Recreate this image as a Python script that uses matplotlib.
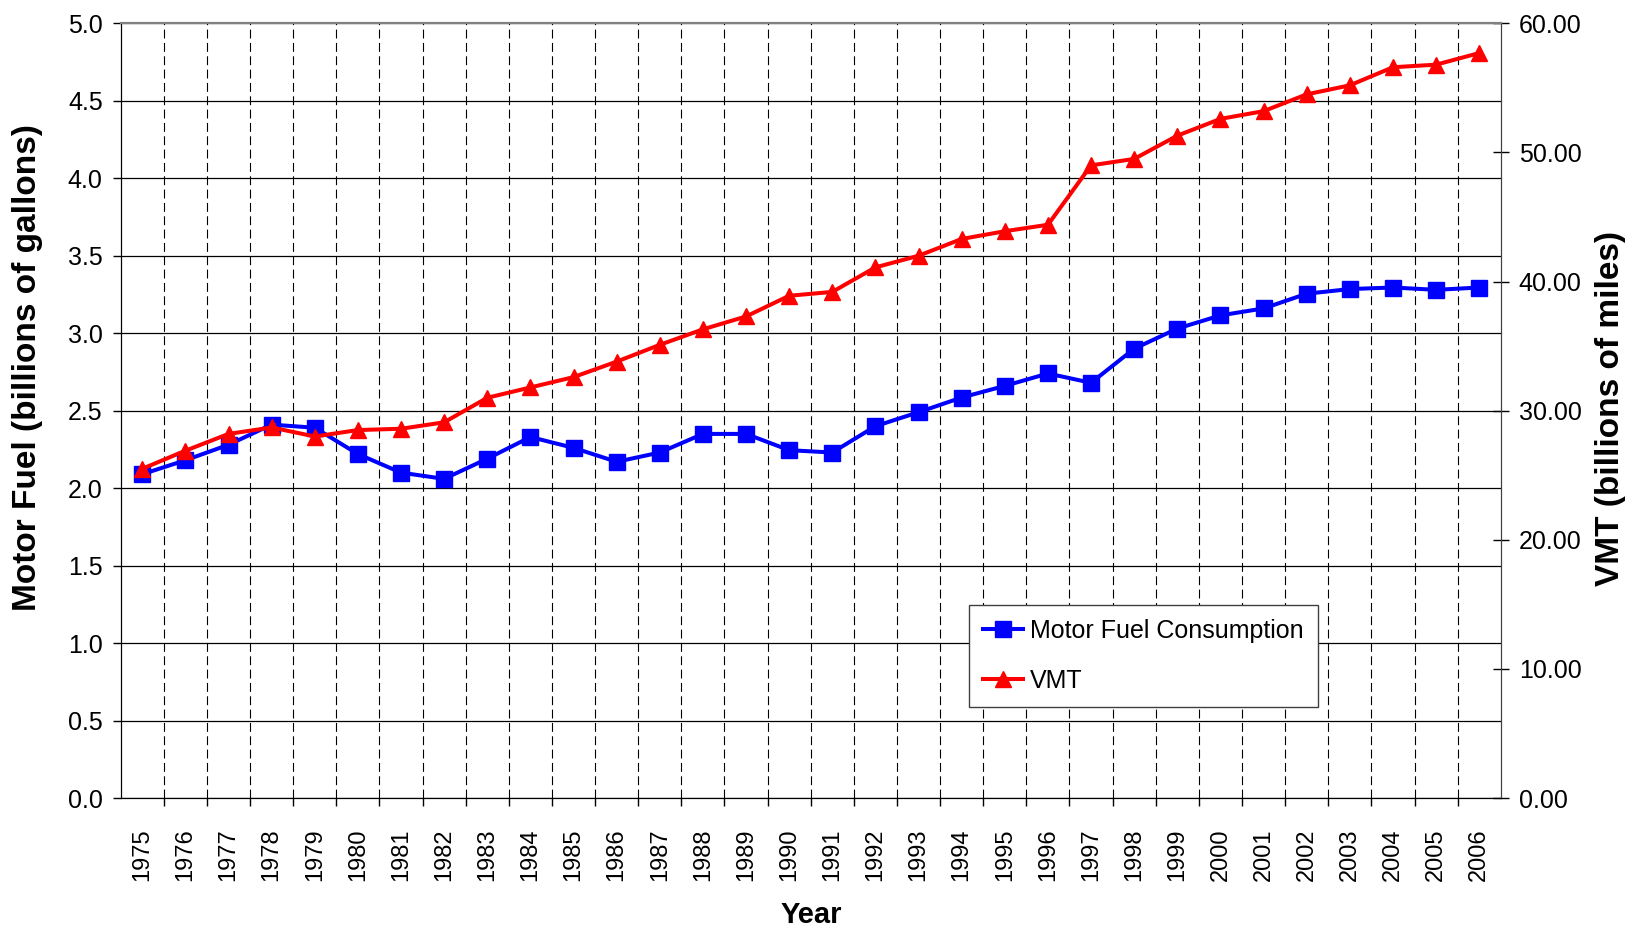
import numpy as np
import matplotlib
matplotlib.use('Agg')
import matplotlib.pyplot as plt
from matplotlib.ticker import FormatStrFormatter, FixedLocator

# Datos
years = list(range(1975, 2007))
fuel = [2.09, 2.18, 2.28, 2.41, 2.39, 2.22, 2.10, 2.06, 2.19, 2.33, 2.26, 2.17,
        2.23, 2.35, 2.35, 2.245, 2.23, 2.40, 2.49, 2.585, 2.66, 2.74, 2.68, 2.90,
        3.03, 3.115, 3.16, 3.255, 3.285, 3.295, 3.28, 3.295]
vmt = [25.5, 26.9, 28.2, 28.7, 28.0, 28.5, 28.6, 29.1, 31.0, 31.8, 32.6, 33.8,
       35.1, 36.3, 37.3, 38.9, 39.2, 41.1, 42.0, 43.3, 43.9, 44.4, 49.0, 49.5,
       51.3, 52.6, 53.2, 54.5, 55.2, 56.6, 56.8, 57.7]

font = ['Liberation Sans', 'DejaVu Sans']

fig = plt.figure(figsize=(16.4, 9.34), dpi=100)
ax = fig.add_axes([0.0736, 0.1456, 0.8415, 0.8294])
ax2 = ax.twinx()

x = np.arange(len(years))
l1, = ax.plot(x, fuel, color='#0000FF', lw=2.9, marker='s', ms=11,
              label='Motor Fuel Consumption')
l2, = ax2.plot(x, vmt, color='#FF0000', lw=2.9, marker='^', ms=12,
               label='VMT')

# eje izquierdo
ax.set_xlim(-0.5, len(years) - 0.5)
ax.set_ylim(0, 5)
ax.set_yticks(np.arange(0, 5.01, 0.5))
ax.yaxis.set_major_formatter(FormatStrFormatter('%.1f'))
ax.tick_params(axis='y', direction='out', length=6, width=1, pad=7)
for lab in ax.get_yticklabels():
    lab.set_family(font)
    lab.set_fontsize(18)
ax.grid(axis='y', which='major', color='black', lw=0.9, ls='-')

# eje x: etiquetas en el centro, marcas entre categorías
ax.set_xticks(x)
ax.set_xticklabels([str(y) for y in years], rotation=90, family=font,
                   fontsize=17)
ax.tick_params(axis='x', which='major', length=0, pad=22)
ax.xaxis.set_minor_locator(FixedLocator(np.arange(0.5, len(years) - 1, 1.0)))
ax.tick_params(axis='x', which='minor', direction='out', length=6, width=1)
ax.grid(axis='x', which='minor', color='black', lw=0.8, ls=(0, (8, 4)))
ax.set_axisbelow(True)

# eje derecho
ax2.set_ylim(0, 60)
ax2.set_yticks(np.arange(0, 61, 10))
ax2.yaxis.set_major_formatter(FormatStrFormatter('%.2f'))
ax2.tick_params(axis='y', direction='inout', length=12, width=1, pad=7)
for lab in ax2.get_yticklabels():
    lab.set_family(font)
    lab.set_fontsize(18)

for a in (ax, ax2):
    a.spines['top'].set_color('#808080')
    a.spines['top'].set_linewidth(1.5)
    a.spines['right'].set_color('#404040')
    a.spines['left'].set_color('black')
    a.spines['bottom'].set_color('black')

fig.text(0.017, 1 - 368 / 934, 'Motor Fuel (billions of gallons)', rotation=90,
         ha='center', va='center', family=font, fontsize=24, fontweight='bold')
fig.text(1611 / 1640, 1 - 408 / 934, 'VMT (billions of miles)', rotation=90,
         ha='center', va='center', family=font, fontsize=24, fontweight='bold')
fig.text(811 / 1640, 1 - 915 / 934, 'Year', ha='center', va='center',
         family=font, fontsize=21, fontweight='bold')

leg = ax2.legend(handles=[l1, l2], loc='upper left',
                 bbox_to_anchor=(969 / 1640, 1 - 605 / 934),
                 bbox_transform=fig.transFigure, fancybox=False, framealpha=1,
                 edgecolor='#404040', prop={'family': font, 'size': 18},
                 handlelength=1.6, handletextpad=0.3, borderpad=0.55,
                 labelspacing=1.05, borderaxespad=0)
leg.get_frame().set_linewidth(1.0)

fig.savefig('out.png', dpi=100)
